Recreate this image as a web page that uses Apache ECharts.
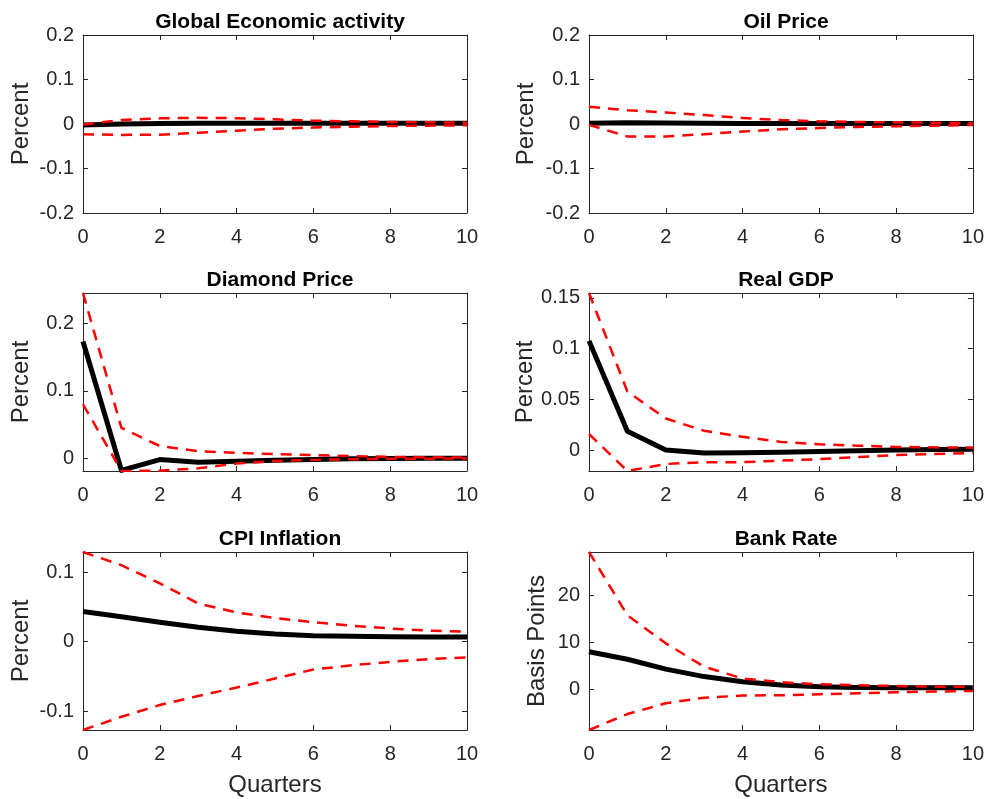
<!DOCTYPE html>
<html>
<head>
<meta charset="utf-8">
<title>Impulse responses</title>
<script src="https://cdn.jsdelivr.net/npm/echarts@6/dist/echarts.min.js"></script>
<style>
  html, body { margin: 0; padding: 0; background: #ffffff; }
  #chart { width: 987px; height: 799px; }
</style>
</head>
<body>
<div id="chart"></div>
<script>
// Horizon in quarters
const quarters = [0, 1, 2, 3, 4, 5, 6, 7, 8, 9, 10];

// Global Economic activity (percent)
const globalMean  = [-0.002, 0.000, 0.0012, 0.0015, 0.0015, 0.0015, 0.0015, 0.0015, 0.0015, 0.0015, 0.0015];
const globalUpper = [-0.001, 0.009, 0.0127, 0.014, 0.013, 0.0105, 0.0075, 0.006, 0.0045, 0.004, 0.003];
const globalLower = [-0.023, -0.0245, -0.024, -0.0195, -0.015, -0.0105, -0.008, -0.006, -0.0045, -0.0037, -0.003];

// Oil Price (percent)
const oilMean  = [0.0015, 0.003, 0.002, 0.0015, 0.001, 0.001, 0.001, 0.001, 0.001, 0.001, 0.001];
const oilUpper = [0.039, 0.031, 0.026, 0.020, 0.0135, 0.009, 0.006, 0.0045, 0.0037, 0.003, 0.0022];
const oilLower = [-0.002, -0.028, -0.028, -0.023, -0.017, -0.012, -0.009, -0.0067, -0.005, -0.0037, -0.0022];

// Diamond Price (percent)
const diamondMean  = [0.173, -0.018, -0.002, -0.006, -0.0045, -0.003, -0.002, -0.001, -0.0005, 0.0, 0.0];
const diamondUpper = [0.245, 0.045, 0.018, 0.0105, 0.008, 0.006, 0.0045, 0.003, 0.002, 0.0015, 0.001];
const diamondLower = [0.080, -0.019, -0.0185, -0.015, -0.008, -0.004, -0.0025, -0.0015, -0.001, -0.0007, -0.0005];

// Real GDP (percent)
const gdpMean  = [0.1076, 0.0185, 0.0, -0.003, -0.0028, -0.0022, -0.0015, -0.0008, 0.0, 0.0005, 0.0007];
const gdpUpper = [0.1548, 0.0576, 0.031, 0.019, 0.013, 0.008, 0.0056, 0.0043, 0.003, 0.0026, 0.0023];
const gdpLower = [0.0158, -0.0207, -0.0138, -0.012, -0.012, -0.0105, -0.009, -0.007, -0.005, -0.004, -0.003];

// CPI Inflation (percent)
const cpiMean  = [0.0433, 0.036, 0.028, 0.0207, 0.015, 0.011, 0.0087, 0.0077, 0.0072, 0.0068, 0.0067];
const cpiUpper = [0.129, 0.11, 0.084, 0.055, 0.042, 0.034, 0.028, 0.023, 0.019, 0.016, 0.0144];
const cpiLower = [-0.127, -0.108, -0.091, -0.078, -0.066, -0.053, -0.040, -0.034, -0.029, -0.025, -0.0225];

// Bank Rate (basis points)
const bankMean  = [8.0, 6.4, 4.3, 2.7, 1.6, 0.9, 0.55, 0.35, 0.3, 0.3, 0.3];
const bankUpper = [29.3, 15.8, 9.8, 4.8, 2.3, 1.5, 1.06, 0.85, 0.7, 0.57, 0.5];
const bankLower = [-8.7, -5.3, -3.0, -1.8, -1.35, -1.28, -1.06, -0.85, -0.64, -0.5, -0.35];

// Tick labels
const xTicks = [0, 2, 4, 6, 8, 10];
const globalTicks = [-0.2, -0.1, 0, 0.1, 0.2];
const oilTicks = [-0.2, -0.1, 0, 0.1, 0.2];
const diamondTicks = [0, 0.1, 0.2];
const gdpTicks = [0, 0.05, 0.1, 0.15];
const cpiTicks = [-0.1, 0, 0.1];
const bankTicks = [0, 10, 20];

const titles = ['Global Economic activity', 'Oil Price', 'Diamond Price', 'Real GDP', 'CPI Inflation', 'Bank Rate'];
const yNames = ['Percent', 'Percent', 'Percent', 'Percent', 'Percent', 'Basis Points'];

const panels = [
  { mean: globalMean,  upper: globalUpper,  lower: globalLower,  ticks: globalTicks,  fixed: [-0.2, 0.2] },
  { mean: oilMean,     upper: oilUpper,     lower: oilLower,     ticks: oilTicks,     fixed: [-0.2, 0.2] },
  { mean: diamondMean, upper: diamondUpper, lower: diamondLower, ticks: diamondTicks, fixed: null },
  { mean: gdpMean,     upper: gdpUpper,     lower: gdpLower,     ticks: gdpTicks,     fixed: null },
  { mean: cpiMean,     upper: cpiUpper,     lower: cpiLower,     ticks: cpiTicks,     fixed: null },
  { mean: bankMean,    upper: bankUpper,    lower: bankLower,    ticks: bankTicks,    fixed: null }
];

const FONT = 'Liberation Sans, Arial, Helvetica, sans-serif';
const AXIS_COLOR = '#262626';
const colLeft = [83, 589];
const rowTop = [35, 293, 552];
const plotW = 384;
const plotH = 178;
const nameGaps = [50, 51, 50, 51, 50, 40];

const grids = [], xAxes = [], yAxes = [], series = [], titleList = [];

function pairs(ys) {
  return quarters.map((q, i) => [q, ys[i]]);
}

panels.forEach((p, k) => {
  const col = k % 2, row = Math.floor(k / 2);
  const left = colLeft[col], top = rowTop[row];
  // tight limits around the plotted lines, unless fixed
  const all = p.mean.concat(p.upper, p.lower);
  const yMin = p.fixed ? p.fixed[0] : Math.min.apply(null, all);
  const yMax = p.fixed ? p.fixed[1] : Math.max.apply(null, all);

  grids.push({ left: left, top: top, width: plotW, height: plotH, containLabel: false });

  titleList.push({
    text: titles[k],
    left: left + plotW / 2,
    top: top - 28,
    textAlign: 'center',
    textStyle: { fontFamily: FONT, fontSize: 21, fontWeight: 'bold', color: '#000000' }
  });

  const axisLine = { show: true, onZero: false, lineStyle: { color: AXIS_COLOR, width: 1 } };
  const tickStyle = { show: true, inside: true, length: 5, lineStyle: { color: AXIS_COLOR, width: 1 } };
  const isBottom = row === 2;

  // bottom x axis
  xAxes.push({
    type: 'value', gridIndex: k, position: 'bottom', min: 0, max: 10,
    axisLine: axisLine,
    axisTick: Object.assign({ customValues: xTicks }, tickStyle),
    axisLabel: { customValues: xTicks, margin: 14, fontFamily: FONT, fontSize: 20, color: AXIS_COLOR },
    splitLine: { show: false },
    name: isBottom ? 'Quarters' : '',
    nameLocation: 'middle', nameGap: 43,
    nameTextStyle: { fontFamily: FONT, fontSize: 24, color: AXIS_COLOR }
  });
  // top x axis (box edge)
  xAxes.push({
    type: 'value', gridIndex: k, position: 'top', min: 0, max: 10,
    axisLine: axisLine,
    axisTick: Object.assign({ customValues: xTicks }, tickStyle),
    axisLabel: { show: false },
    splitLine: { show: false }
  });
  // left y axis
  yAxes.push({
    type: 'value', gridIndex: k, position: 'left', min: yMin, max: yMax,
    axisLine: axisLine,
    axisTick: Object.assign({ customValues: p.ticks }, tickStyle),
    axisLabel: { customValues: p.ticks, margin: 9, fontFamily: FONT, fontSize: 20, color: AXIS_COLOR },
    splitLine: { show: false },
    name: yNames[k], nameLocation: 'middle', nameRotate: 90, nameGap: nameGaps[k],
    nameTextStyle: { fontFamily: FONT, fontSize: 24, color: AXIS_COLOR }
  });
  // right y axis (box edge)
  yAxes.push({
    type: 'value', gridIndex: k, position: 'right', min: yMin, max: yMax,
    axisLine: axisLine,
    axisTick: Object.assign({ customValues: p.ticks }, tickStyle),
    axisLabel: { show: false },
    splitLine: { show: false }
  });

  const xi = 2 * k, yi = 2 * k;
  series.push({
    type: 'line', xAxisIndex: xi, yAxisIndex: yi, data: pairs(p.mean),
    showSymbol: false, symbol: 'none', silent: true, animation: false,
    lineStyle: { color: '#000000', width: 5, join: 'round' }
  });
  [p.upper, p.lower].forEach(band => {
    series.push({
      type: 'line', xAxisIndex: xi, yAxisIndex: yi, data: pairs(band),
      showSymbol: false, symbol: 'none', silent: true, animation: false,
      lineStyle: { color: '#ff0000', width: 2.5, type: [11, 8] }
    });
  });
});

const chart = echarts.init(document.getElementById('chart'), null, { renderer: 'canvas' });
chart.setOption({
  backgroundColor: '#ffffff',
  animation: false,
  title: titleList,
  grid: grids,
  xAxis: xAxes,
  yAxis: yAxes,
  series: series
});
</script>
</body>
</html>
